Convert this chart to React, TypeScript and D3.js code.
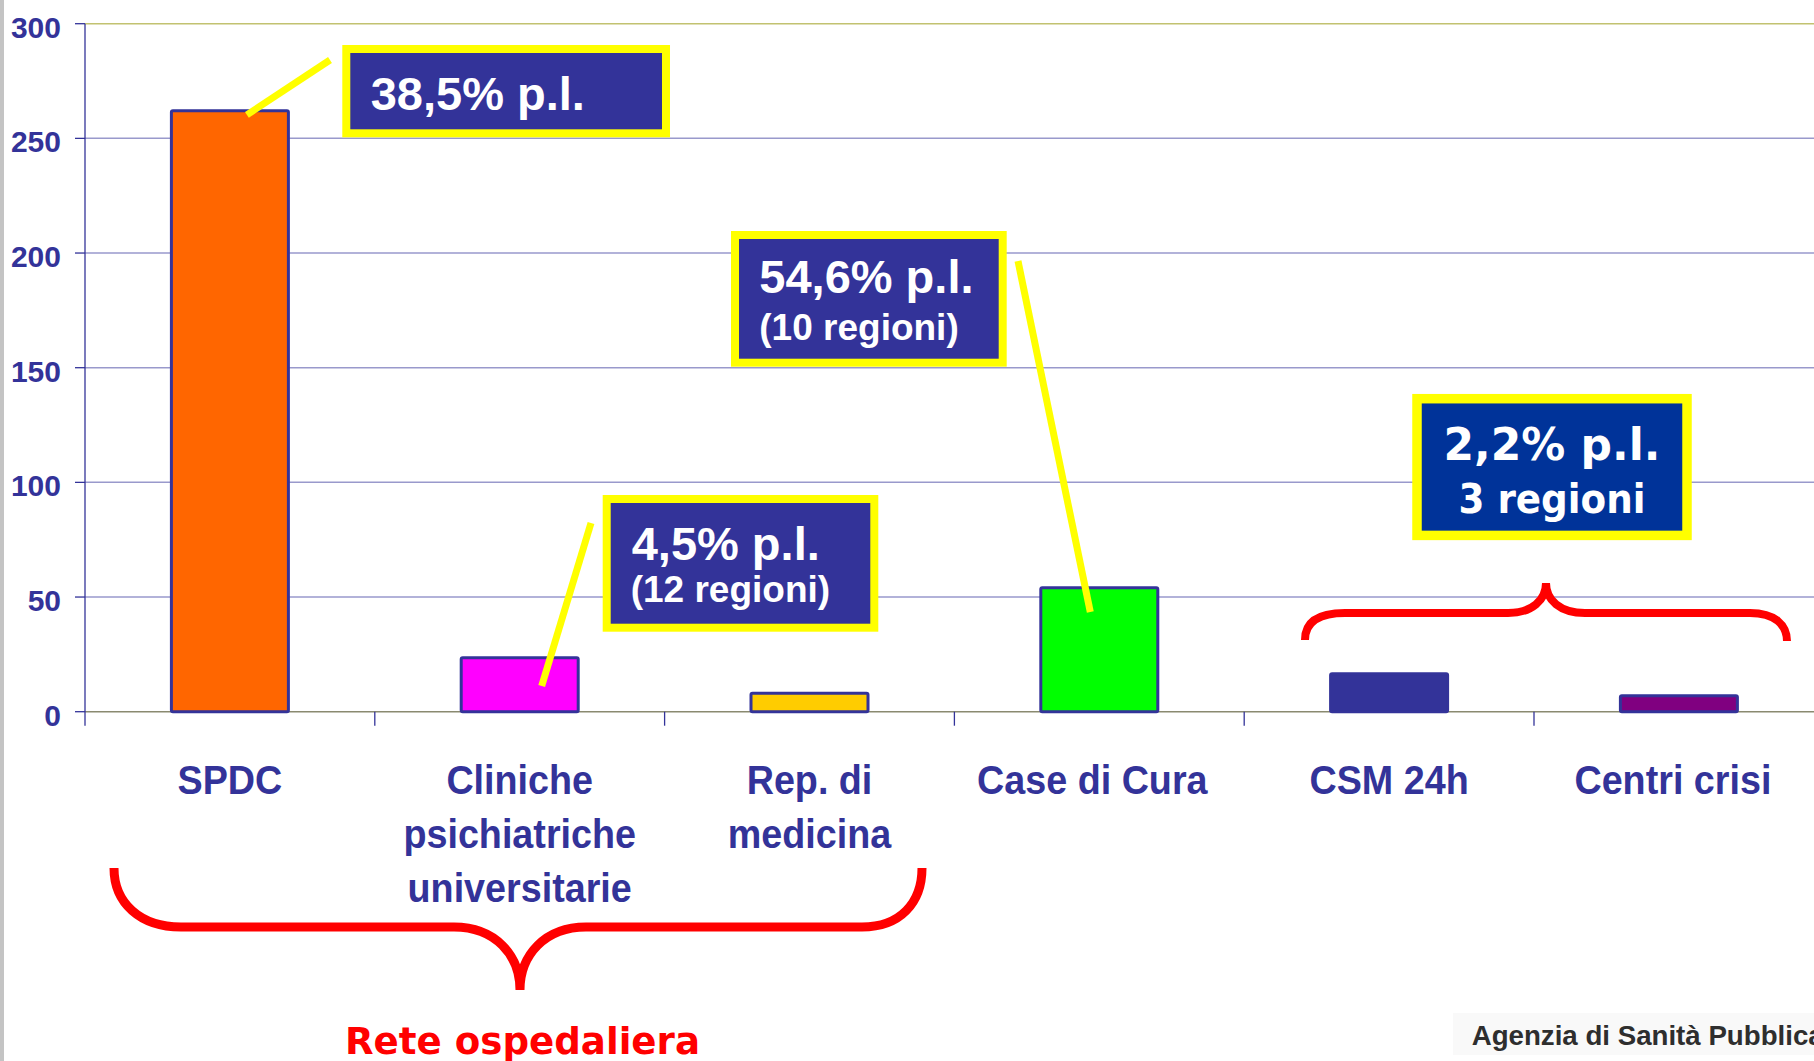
import React from "react";
import * as d3 from "d3";

const categories: string[] = ["SPDC", "Cliniche psichiatriche universitarie", "Rep. di medicina", "Case di Cura", "CSM 24h", "Centri crisi"];
const categoryLines: string[][] = [["SPDC"], ["Cliniche", "psichiatriche", "universitarie"], ["Rep. di", "medicina"], ["Case di Cura"], ["CSM 24h"], ["Centri crisi"]];
const values: number[] = [262, 23.5, 8, 54, 16.5, 7];
const barColors: string[] = ["#ff6600", "#ff00ff", "#ffcc00", "#00ff00", "#333399", "#800080"];
const yTicks: number[] = [0, 50, 100, 150, 200, 250, 300];
const note1: string[] = ["38,5% p.l."];
const note2: string[] = ["4,5% p.l.", "(12 regioni)"];
const note3: string[] = ["54,6% p.l.", "(10 regioni)"];
const note4: string[] = ["2,2% p.l.", "3 regioni"];
const groupLabel = "Rete ospedaliera";
const sourceLabel = "Agenzia di Sanità Pubblica";

const W = 1814;
const H = 1061;
const X0 = 85;
const STEP = 289.8;
const ARIAL = "'Liberation Sans', Arial, Helvetica, sans-serif";
const VERD = "'DejaVu Sans Condensed', 'DejaVu Sans', Verdana, sans-serif";
const NAVY = "#333399";
const YELLOW = "#ffff00";
const labelShift = [0, 0, 0, -7, 0, -6];

export default function App() {
  const x = d3.scaleBand<string>().domain(categories).range([X0, X0 + categories.length * STEP]).padding(0);
  const y = d3.scaleLinear().domain([0, 300]).range([711.7, 23.7]);
  const bw = x.bandwidth();
  const barW = 117;
  const cx = (i: number) => (x(categories[i]) as number) + bw / 2;

  const box = (bx: number, by: number, bwid: number, bh: number, sw: number, fill: string) => (
    <rect x={bx} y={by} width={bwid} height={bh} fill={fill} stroke={YELLOW} strokeWidth={sw} />
  );

  const lowerBrace = "M114,868 C114,903 140,927 181,927 L454,927 C495,927 520,955 520,990 C520,955 545,927 586,927 L862,927 C900,927 922,903 922,868";
  const upperBrace = "M1305,640 C1305,622 1318,613 1345,613 L1508,613 C1532,613 1546,600 1546,583 C1546,600 1560,613 1585,613 L1750,613 C1775,613 1787,625 1787,641";

  return (
    <svg width={W} height={H} style={{ position: "absolute", left: 0, top: 0, background: "#ffffff" }}>
      <rect x={0} y={0} width={W} height={H} fill="#ffffff" />
      <rect x={0} y={0} width={4} height={H} fill="#c4c4c4" />
      {/* gridlines */}
      {yTicks.map((t) => (
        <g key={t}>
          {t > 0 && (
            <line x1={X0} x2={W} y1={y(t)} y2={y(t)} stroke={t === 300 ? "#c2c270" : "#9999cc"} strokeWidth={1.5} />
          )}
          <line x1={75} x2={X0} y1={y(t)} y2={y(t)} stroke={NAVY} strokeWidth={1.3} />
          <text x={61} y={y(t) + 14} textAnchor="end" fontFamily={ARIAL} fontWeight="bold" fontSize={30} fill={NAVY}>
            {t}
          </text>
        </g>
      ))}
      {/* baseline and y axis */}
      <line x1={X0} x2={W} y1={y(0)} y2={y(0)} stroke="#8a8a70" strokeWidth={1.5} />
      <line x1={X0} x2={X0} y1={y(300)} y2={y(0) + 14} stroke={NAVY} strokeWidth={1.3} />
      {categories.map((c, i) =>
        i > 0 ? (
          <line key={c} x1={x(c) as number} x2={x(c) as number} y1={y(0)} y2={y(0) + 14} stroke={NAVY} strokeWidth={1.3} />
        ) : null
      )}
      {/* bars */}
      {categories.map((c, i) => (
        <rect
          key={c}
          x={cx(i) - barW / 2}
          y={y(values[i])}
          width={barW}
          height={y(0) - y(values[i])}
          fill={barColors[i]}
          stroke={NAVY}
          strokeWidth={3}
          rx={1.5}
        />
      ))}
      {/* x labels */}
      {categoryLines.map((lines, i) =>
        lines.map((l, j) => (
          <g key={i + "-" + j} transform={`translate(${cx(i) + labelShift[i]},${794 + j * 54}) scale(0.92,1)`}>
            <text x={0} y={0} textAnchor="middle" fontFamily={ARIAL} fontWeight="bold" fontSize={41} fill={NAVY}>
              {l}
            </text>
          </g>
        ))
      )}
      {/* leader lines */}
      <line x1={cx(0) + 17} y1={y(values[0]) + 4} x2={330} y2={60} stroke={YELLOW} strokeWidth={7} />
      <line x1={cx(1) + 22} y1={686} x2={591} y2={523} stroke={YELLOW} strokeWidth={7} />
      <line x1={1018} y1={261} x2={cx(3) - 9} y2={612} stroke={YELLOW} strokeWidth={7} />
      {/* annotation boxes */}
      {box(346.3, 49, 319.7, 84.3, 8, NAVY)}
      <text x={370.7} y={110} fontFamily={ARIAL} fontWeight="bold" fontSize={47} fill="#ffffff">{note1[0]}</text>

      {box(606.7, 499, 267.6, 128.7, 8, NAVY)}
      <text x={631.7} y={560} fontFamily={ARIAL} fontWeight="bold" fontSize={47} fill="#ffffff">{note2[0]}</text>
      <text x={630.7} y={602} fontFamily={ARIAL} fontWeight="bold" fontSize={37} fill="#ffffff">{note2[1]}</text>

      {box(735, 235, 267.7, 127.7, 8, NAVY)}
      <text x={759.3} y={293} fontFamily={ARIAL} fontWeight="bold" fontSize={47} fill="#ffffff">{note3[0]}</text>
      <text x={759.3} y={340} fontFamily={ARIAL} fontWeight="bold" fontSize={37} fill="#ffffff">{note3[1]}</text>

      {box(1417, 398.7, 270, 136.7, 9.5, "#003399")}
      <text x={1552} y={460} textAnchor="middle" fontFamily={VERD} fontWeight="bold" fontSize={45} fill="#ffffff" textLength={217} lengthAdjust="spacingAndGlyphs">{note4[0]}</text>
      <text x={1552} y={512.7} textAnchor="middle" fontFamily={VERD} fontWeight="bold" fontSize={41} fill="#ffffff" textLength={187} lengthAdjust="spacingAndGlyphs">{note4[1]}</text>

      {/* braces */}
      <path d={lowerBrace} fill="none" stroke="#ff0000" strokeWidth={9} strokeLinecap="butt" />
      <path d={upperBrace} fill="none" stroke="#ff0000" strokeWidth={8} strokeLinecap="butt" />
      <text x={345} y={1054} fontFamily={VERD} fontWeight="bold" fontSize={38} fill="#ff0000" textLength={355} lengthAdjust="spacingAndGlyphs">{groupLabel}</text>

      {/* source logo */}
      <rect x={1453} y={1013} width={361} height={42} fill="#f9f9f9" />
      <text x={1471.7} y={1045} fontFamily={ARIAL} fontWeight="bold" fontSize={28} fill="#2e2e2e" textLength={352} lengthAdjust="spacingAndGlyphs">{sourceLabel}</text>
    </svg>
  );
}
